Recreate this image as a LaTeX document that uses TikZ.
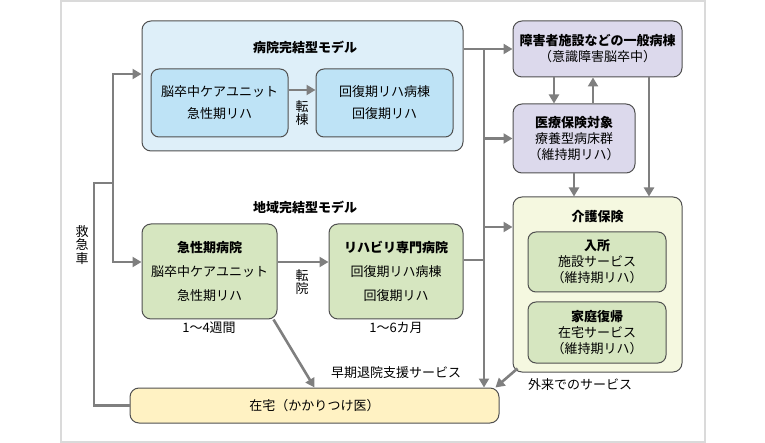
\documentclass[tikz,border=0pt]{standalone}
\usepackage{fontspec}
\setmainfont{Noto Sans CJK JP}
\usetikzlibrary{arrows.meta}
\definecolor{framegray}{HTML}{DADADA}
\definecolor{boxline}{HTML}{505050}
\definecolor{arrowgray}{HTML}{7F7F7F}
\definecolor{hospfill}{HTML}{DEEFF9}
\definecolor{unitfill}{HTML}{BEE3F6}
\definecolor{purplefill}{HTML}{DCD9EC}
\definecolor{greenfill}{HTML}{D6E6C0}
\definecolor{kaigofill}{HTML}{F5F8E0}
\definecolor{homefill}{HTML}{FFF2C3}
\begin{document}
\begin{tikzpicture}[x=1pt, y=-1pt, every node/.style={rectangle, inner sep=0pt}, text centered,
	font=\fontsize{13}{16}\selectfont,
	box/.style={draw=boxline, line width=1pt, rounded corners=9pt, align=center},
	wide/.style={font=\fontsize{13}{22}\selectfont},
	wider/.style={font=\fontsize{13}{24}\selectfont},
	conn/.style={draw=arrowgray, line width=2.6pt},
	arr/.style={conn, -{Triangle[length=9pt, width=10pt]}}]
	\useasboundingbox (0,0) rectangle (765,443);
	\draw[framegray, line width=1.5pt] (61,1) rectangle (705,442);
	\node[box, fill=hospfill, minimum width=321pt, minimum height=130pt] (hosp) at (302.5, 86) {};
	\node[] (hospText) at (305, 47) {\textbf{病院完結型モデル}};
	\node[box, wide, fill=unitfill, minimum width=137pt, minimum height=68pt, rounded corners=8pt] (scu) at (219.5, 103) {脳卒中ケアユニット\\急性期リハ};
	\node[box, wide, fill=unitfill, minimum width=137pt, minimum height=68pt, rounded corners=8pt] (kaifuku) at (384.5, 103) {回復期リハ病棟\\回復期リハ};
	\node[] (areaText) at (305, 207) {\textbf{地域完結型モデル}};
	\node[box, wider, fill=greenfill, minimum width=135pt, minimum height=95pt] (acute) at (209.5, 271.5) {\textbf{急性期病院}\\脳卒中ケアユニット\\急性期リハ};
	\node[box, wider, fill=greenfill, minimum width=134pt, minimum height=95pt] (rehab) at (396, 271.5) {\textbf{リハビリ専門病院}\\回復期リハ病棟\\回復期リハ};
	\node[] (acuteTerm) at (209, 328) {1〜4週間};
	\node[] (rehabTerm) at (396, 328) {1〜6カ月};
	\node[box, fill=homefill, minimum width=369pt, minimum height=35pt] (home) at (314.5, 405.5) {在宅（かかりつけ医）};
	\node[box, fill=purplefill, minimum width=169pt, minimum height=56pt] (general) at (597.5, 49) {\textbf{障害者施設などの一般病棟}\\（意識障害脳卒中）};
	\node[box, fill=purplefill, minimum width=122pt, minimum height=69pt] (ryoyo) at (574, 138.5) {\textbf{医療保険対象}\\療養型病床群\\（維持期リハ）};
	\node[box, fill=kaigofill, minimum width=169pt, minimum height=175pt] (kaigo) at (597.5, 284.5) {};
	\node[] (kaigoText) at (597.5, 217) {\textbf{介護保険}};
	\node[box, fill=greenfill, minimum width=138pt, minimum height=60pt, rounded corners=8pt] (nyusho) at (597, 262) {\textbf{入所}\\施設サービス\\（維持期リハ）};
	\node[box, fill=greenfill, minimum width=138pt, minimum height=61pt, rounded corners=8pt] (katei) at (597, 332.5) {\textbf{家庭復帰}\\在宅サービス\\（維持期リハ）};
	\draw[arr] ([yshift=13pt]scu.east) -- ([yshift=13pt]kaifuku.west);
	\node[align=center, font=\fontsize{13}{13.5}\selectfont] (tentoText) at (302, 113) {転\\棟};
	\draw[arr] ([yshift=9.5pt]acute.east) -- ([yshift=9.5pt]rehab.west);
	\node[align=center, font=\fontsize{13}{13.5}\selectfont] (tenin) at (302, 282) {転\\院};
	\coordinate (ambLeft) at (94, 183);
	\coordinate (amb) at (113, 183);
	\draw[conn] (home.west) -| (ambLeft) -- (amb);
	\draw[arr] (amb) |- ([yshift=12pt]hosp.west);
	\draw[arr] (amb) |- ([yshift=9.5pt]acute.west);
	\node[align=center, font=\fontsize{13}{13.5}\selectfont] (ambText) at (82, 245) {救\\急\\車};
	\coordinate (bus) at (484, 49);
	\draw[arr] (hosp.east |- general.west) -- (general.west);
	\draw[arr] (bus) -- (bus |- home.north);
	\draw[arr] (bus |- ryoyo.west) -- (ryoyo.west);
	\draw[arr] ([yshift=57.5pt]kaigo.west -| bus) -- ([yshift=57.5pt]kaigo.west);
	\draw[conn] ([yshift=11.5pt]rehab.east) -- ([yshift=11.5pt]rehab.east -| bus);
	\draw[arr] ([xshift=-20pt]ryoyo.north |- general.south) -- ([xshift=-20pt]ryoyo.north);
	\draw[arr] ([xshift=19pt]ryoyo.north) -- ([xshift=19pt]ryoyo.north |- general.south);
	\draw[arr] (ryoyo.south) -- (ryoyo.south |- kaigo.north);
	\draw[arr] ([xshift=51.5pt]general.south) -- ([xshift=51.5pt]general.south |- kaigo.north);
	\draw[arr] ([shift={(5pt,4pt)}]kaigo.south west) -- ([xshift=-4pt]home.north east);
	\node[] (gairai) at (580, 385) {外来でのサービス};
	\draw[arr] ([xshift=-4pt]acute.south east) -- (home.north);
	\node[] (soki) at (396, 373) {早期退院支援サービス};
\end{tikzpicture}
\end{document}
